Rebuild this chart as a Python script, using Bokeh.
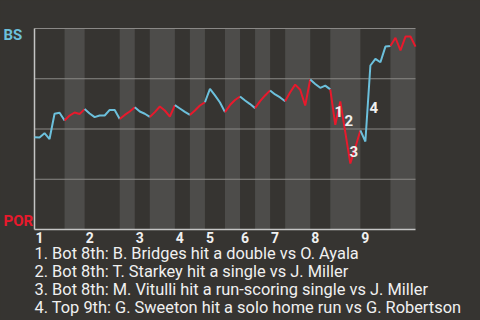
from bokeh.plotting import figure
from bokeh.models import ColumnDataSource, LabelSet, Range1d
from bokeh.embed import file_html
from bokeh.resources import INLINE
from bokeh.core.properties import value

# ---------------- data ----------------
teams = ["BS", "POR"]
# BS win probability after each plate appearance (index 0 = first pitch)
win_prob = [
    0.459, 0.458, 0.479, 0.450, 0.576, 0.581, 0.542, 0.567, 0.582, 0.575,
    0.599, 0.577, 0.559, 0.567, 0.567, 0.595, 0.595, 0.550, 0.570, 0.587,
    0.608, 0.587, 0.576, 0.560, 0.584, 0.612, 0.592, 0.562, 0.619, 0.602,
    0.585, 0.570, 0.592, 0.617, 0.633, 0.700, 0.667, 0.632, 0.584, 0.619,
    0.644, 0.662, 0.642, 0.624, 0.604, 0.639, 0.667, 0.692, 0.672, 0.657,
    0.638, 0.683, 0.721, 0.695, 0.617, 0.746, 0.724, 0.705, 0.716, 0.697,
    0.521, 0.637, 0.483, 0.328, 0.408, 0.493, 0.438, 0.816, 0.849, 0.832,
    0.910, 0.913, 0.954, 0.891, 0.960, 0.960, 0.910,
]
# index where each half inning starts (top 1st, bot 1st, top 2nd, ...)
half_inning_starts = [0, 6, 10, 17, 20, 23, 28, 31, 34, 38, 41, 44, 47, 50, 55, 59, 65, 71]
inning_labels = ["1", "2", "3", "4", "5", "6", "7", "8", "9"]
grid_levels = [0.25, 0.5, 0.75, 1.0]
event_index = [60, 62, 63, 67]
event_numbers = ["1", "2", "3", "4"]
event_text = [
    "Bot 8th: B. Bridges hit a double vs O. Ayala",
    "Bot 8th: T. Starkey hit a single vs J. Miller",
    "Bot 8th: M. Vitulli hit a run-scoring single vs J. Miller",
    "Top 9th: G. Sweeton hit a solo home run vs G. Robertson",
]

# ---------------- style / layout ----------------
BG = "#363431"
BAND = "#4d4c4a"
BLUE = "#6cc0dc"
RED = "#e8192c"
GRID = "#8a8886"
AXIS = "#c4c4c4"
TEXT = "#f0f0f0"
FONT = value("Roboto")

W, H = 480, 320
PLOT_L, PLOT_R = 34, 415      # pixel columns of the chart area
PLOT_T, PLOT_B = 28, 229      # pixel rows of the chart area

n_last = len(win_prob) - 1
half_inning_ends = half_inning_starts[1:] + [n_last]

ppx = (PLOT_R - PLOT_L) / n_last          # pixels per plate appearance
ppy = (PLOT_B - PLOT_T) / 1.0             # pixels per unit probability


def py_to_y(py):
    return (PLOT_B - py) / ppy


p = figure(width=W, height=H, output_backend="svg", toolbar_location=None,
           x_axis_type=None, y_axis_type=None,
           x_range=Range1d(-PLOT_L / ppx, (W - PLOT_L) / ppx),
           y_range=Range1d(py_to_y(H), py_to_y(0)),
           min_border=0, background_fill_color=BG, border_fill_color=BG,
           outline_line_color=None)
p.styles = {"background-color": BG}

# shaded bottom half innings
p.quad(left=half_inning_starts[1::2], right=half_inning_ends[1::2],
       bottom=0, top=1, fill_color=BAND, line_color=None)

# grid lines
p.segment(x0=[0] * len(grid_levels), x1=[n_last] * len(grid_levels),
          y0=grid_levels, y1=grid_levels, line_color=GRID, line_width=1)
# axis lines
p.segment(x0=[0, 0], x1=[0, n_last], y0=[0, 0], y1=[1, 0], line_color=AXIS, line_width=1.5)

# win probability line, colored by half inning
xs, ys, cols = [], [], []
for h, (s, e) in enumerate(zip(half_inning_starts, half_inning_ends)):
    xs.append(list(range(s, e + 1)))
    ys.append(win_prob[s:e + 1])
    cols.append(BLUE if h % 2 == 0 else RED)
p.multi_line(xs=xs, ys=ys, line_color=cols, line_width=2)

# event markers
ev_src = ColumnDataSource(dict(
    x=[i - 0.5 for i in event_index],
    y=[(win_prob[i - 1] + win_prob[i]) / 2 for i in event_index],
    t=event_numbers))
p.add_layout(LabelSet(x="x", y="y", text="t", source=ev_src, x_offset=6, y_offset=-4,
                      text_align="center", text_baseline="middle", text_font=FONT,
                      text_font_size="15px", text_font_style="bold", text_color=TEXT))

# inning tick labels
inning_x = half_inning_starts[0::2]
tk_src = ColumnDataSource(dict(x=inning_x, y=[py_to_y(242)] * len(inning_x), t=inning_labels))
p.add_layout(LabelSet(x="x", y="y", text="t", source=tk_src, x_offset=1,
                      text_align="left", text_baseline="alphabetic", text_font=FONT,
                      text_font_size="14px", text_font_style="bold", text_color=TEXT))

# team labels
tm_src = ColumnDataSource(dict(x=[0, 0], y=[py_to_y(39.5), py_to_y(225)], t=teams,
                               c=[BLUE, RED]))
p.add_layout(LabelSet(x="x", y="y", text="t", source=tm_src, x_offset=-31,
                      text_align="left", text_baseline="alphabetic", text_font=FONT,
                      text_font_size="15px", text_font_style="bold", text_color="c"))

# event descriptions
lines = [f"{n}. {t}" for n, t in zip(event_numbers, event_text)]
lg_src = ColumnDataSource(dict(x=[0] * len(lines),
                               y=[py_to_y(b) for b in (258.5, 276.5, 294.5, 312.5)],
                               t=lines))
p.add_layout(LabelSet(x="x", y="y", text="t", source=lg_src, x_offset=0,
                      text_align="left", text_baseline="alphabetic", text_font=FONT,
                      text_font_size="16.4px", text_color=TEXT))

open("out.html", "w").write(file_html(p, INLINE))
